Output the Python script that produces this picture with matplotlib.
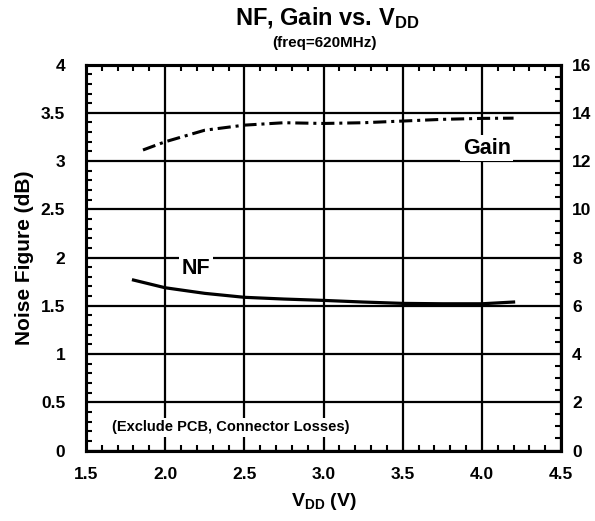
import numpy as np
import matplotlib
matplotlib.use('Agg')
import matplotlib.pyplot as plt
from matplotlib.ticker import MultipleLocator, FormatStrFormatter

plt.rcParams['font.family'] = 'Liberation Sans'
plt.rcParams['font.weight'] = 'bold'
plt.rcParams['axes.labelweight'] = 'bold'
plt.rcParams['mathtext.fontset'] = 'custom'
plt.rcParams['mathtext.rm'] = 'Liberation Sans:bold'
plt.rcParams['mathtext.it'] = 'Liberation Sans:bold'
plt.rcParams['mathtext.bf'] = 'Liberation Sans:bold'
plt.rcParams['mathtext.default'] = 'rm'

# Data
nf_vdd = [1.80, 2.0, 2.25, 2.5, 2.75, 3.0, 3.25, 3.5, 3.75, 4.0, 4.2]
nf_db = [1.767, 1.687, 1.629, 1.588, 1.570, 1.556, 1.539, 1.525, 1.521, 1.521, 1.539]

gain_vdd = [1.86, 2.0, 2.25, 2.5, 2.75, 3.0, 3.25, 3.5, 3.75, 4.0, 4.2]
gain_db = [12.46, 12.80, 13.28, 13.49, 13.59, 13.56, 13.59, 13.66, 13.73, 13.77, 13.78]

fig = plt.figure(figsize=(5.95, 5.21), dpi=100)
ax = fig.add_axes([0.1445, 0.1353, 0.7985, 0.7407])
ax2 = ax.twinx()

# NF curve (solid) on left axis
ax.plot(nf_vdd, nf_db, color='black', lw=2.3, zorder=5)
# Gain curve (dash-dot) on right axis
ax2.plot(gain_vdd, gain_db, color='black', lw=2.2, dashes=(4.3, 1.6, 1.0, 1.6), zorder=5)

ax.set_xlim(1.5, 4.5)
ax.set_ylim(0, 4)
ax2.set_ylim(0, 16)

ax.xaxis.set_major_locator(MultipleLocator(0.5))
ax.xaxis.set_minor_locator(MultipleLocator(0.1))
ax.xaxis.set_major_formatter(FormatStrFormatter('%.1f'))
ax.yaxis.set_major_locator(MultipleLocator(0.5))
ax.yaxis.set_minor_locator(MultipleLocator(0.1))
ax.yaxis.set_major_formatter(FormatStrFormatter('%g'))
ax2.yaxis.set_major_locator(MultipleLocator(2))
ax2.yaxis.set_minor_locator(MultipleLocator(0.5))

ax.grid(True, which='major', color='black', lw=1.6)
ax.set_axisbelow(True)

ax.tick_params(axis='x', which='both', direction='in', top=True, bottom=True, labelsize=12.5, pad=12)
ax.tick_params(axis='y', which='both', direction='in', left=True, right=False, labelsize=12.5, pad=15)
ax.tick_params(which='major', length=0)
ax.tick_params(which='minor', length=4, width=1.5)
ax2.tick_params(axis='y', which='major', length=0, labelsize=12.5, pad=8)
ax2.tick_params(axis='y', which='minor', direction='in', length=4, width=1.5)

for a in (ax, ax2):
    for s in a.spines.values():
        s.set_linewidth(2.2)

# Labels on the plot with white backgrounds
bbox = dict(facecolor='white', edgecolor='none', pad=2)
ax.text(4.03, 3.135, 'Gain', fontsize=15.5, ha='center', va='center', bbox=bbox, zorder=4)
ax.text(2.195, 1.89, 'NF', fontsize=15.5, ha='center', va='center', bbox=bbox, zorder=4)
ax.text(2.413, 0.24, '(Exclude PCB, Connector Losses)', fontsize=10.5, ha='center', va='center',
        bbox=bbox, zorder=4)

ax.set_xlabel(r'V$_{\mathregular{DD}}$ (V)', fontsize=14, labelpad=6)
ax.set_ylabel('Noise Figure (dB)', fontsize=15, labelpad=5)

fig.text(0.55, 0.965, r'NF, Gain vs. V$_{\mathregular{DD}}$', fontsize=17, ha='center', va='center')
fig.text(0.545, 0.917, '(freq=620MHz)', fontsize=11, ha='center', va='center')

fig.savefig('out.png', dpi=100)
